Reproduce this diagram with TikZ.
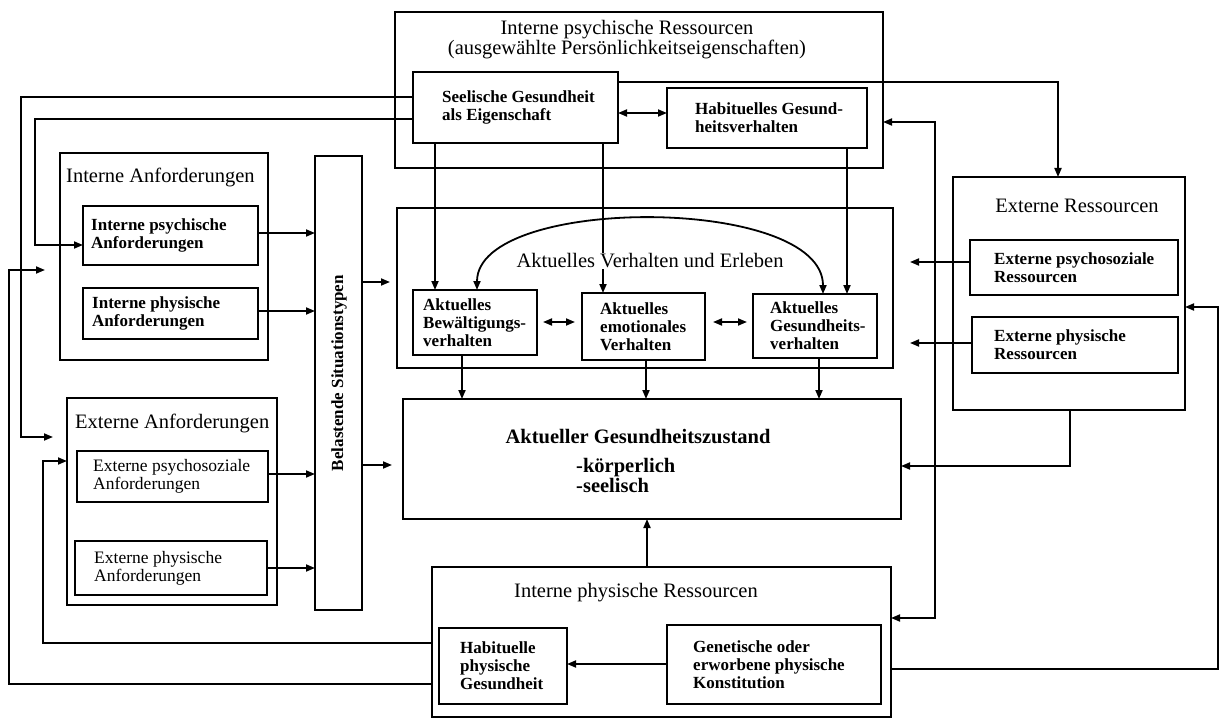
\documentclass[tikz,border=0pt]{standalone}
\usepackage{fontspec}
\setmainfont{Liberation Serif}
\usetikzlibrary{arrows.meta}
\newcommand\mkbox[7][txb]{\node[bx, minimum width=#4, minimum height=#5, label={[#1, xshift=#6]west:{#7}}] (#2) at (#3) {};}
\begin{document}
\begin{tikzpicture}[x=1pt,y=-1pt,
  bx/.style={draw, line width=2.2pt, inner sep=0pt, outer sep=0pt, anchor=north west},
  txb/.style={anchor=west, align=left, inner sep=0pt, font=\bfseries\fontsize{17}{18}\selectfont},
  txr/.style={anchor=west, align=left, inner sep=0pt, font=\fontsize{17.5}{18}\selectfont},
  ttl/.style={inner sep=0pt, font=\fontsize{20.5}{20}\selectfont},
  ttlb/.style={inner sep=0pt, font=\bfseries\fontsize{20.5}{20}\selectfont},
  ln/.style={line width=1.8pt},
  ar/.style={ln, -{Triangle[length=9pt,width=7pt]}},
  dar/.style={ln, {Triangle[length=9pt,width=7pt]}-{Triangle[length=9pt,width=7pt]}},
]
\useasboundingbox (0,0) rectangle (1220,719);

% group boxes
\node[bx, minimum width=488, minimum height=156] (tpr) at (395,12) {};
\node[bx, minimum width=208, minimum height=207] (ia) at (60,153) {};
\node[bx, minimum width=210, minimum height=207] (ea) at (67,398) {};
\node[bx, minimum width=47, minimum height=454] (belast) at (315,156) {};
\node[bx, minimum width=496, minimum height=160] (mid) at (397,208) {};
\node[bx, minimum width=498, minimum height=120] (akt) at (403,399) {};
\node[bx, minimum width=232, minimum height=233] (er) at (953,177) {};
\node[bx, minimum width=459, minimum height=150] (ipr) at (432,567) {};

% titles
\node[ttl, align=center] (tprt) at (627,40) {Interne psychische Ressourcen\\(ausgewählte Persönlichkeitseigenschaften)};
\node[ttl, anchor=base west] (iat) at (66,183) {Interne Anforderungen};
\node[ttl, anchor=base west] (eat) at (75,428) {Externe Anforderungen};
\node[ttl, anchor=base] (ert) at (1077,213) {Externe Ressourcen};
\node[ttl, anchor=base] (iprt) at (636,597) {Interne physische Ressourcen};
\node[ttlb, anchor=base] (aktt) at (638,443) {Aktueller Gesundheitszustand};
\node[ttlb, anchor=base west] (akt1) at (576,472) {-körperlich};
\node[ttlb, anchor=base west] (akt2) at (576,492) {-seelisch};
\node[rotate=90, inner sep=0pt, font=\bfseries\fontsize{17}{18}\selectfont] (belt) at (339,373) {Belastende Situationstypen};

% inner boxes
\mkbox{seel}{413,72}{205}{71}{29pt}{Seelische Gesundheit\\als Eigenschaft}
\mkbox{habv}{667,88}{200}{60}{28pt}{Habituelles Gesund-\\heitsverhalten}
\mkbox{ipa}{83,206}{175}{59}{8pt}{Interne psychische\\Anforderungen}
\mkbox{iphya}{83,288}{175}{51}{9pt}{Interne physische\\Anforderungen}
\mkbox[txr]{epa}{77,451}{191}{51}{16pt}{Externe psychosoziale\\Anforderungen}
\mkbox[txr]{ephya}{75,541}{192}{54}{19pt}{Externe physische\\Anforderungen}
\mkbox{bew}{413,290}{124}{65}{10pt}{Aktuelles\\Bewältigungs-\\verhalten}
\mkbox{emo}{582,293}{123}{67}{18pt}{Aktuelles\\emotionales\\Verhalten}
\mkbox{ges}{753,294}{124}{64}{17pt}{Aktuelles\\Gesundheits-\\verhalten}
\mkbox{epr}{970,240}{208}{55}{24pt}{Externe psychosoziale\\Ressourcen}
\mkbox{ephr}{972,317}{206}{56}{22pt}{Externe physische\\Ressourcen}
\mkbox{hpg}{439,628}{128}{76}{21pt}{Habituelle\\physische\\Gesundheit}
\mkbox{gen}{667,625}{214}{79}{26pt}{Genetische oder\\erworbene physische\\Konstitution}

% connectors: top
\draw[dar] (seel.east |- 0,113) -- (habv.west |- 0,113);
\draw[ar] (seel.south -| 435,0) -- (bew.north -| 435,0);
\draw[ar] (seel.south -| 603,0) -- (emo.north -| 603,0);
\draw[ar] (habv.south -| 847,0) -- (ges.north -| 847,0);
\draw[ar] (seel.east |- 0,82) -| (er.north -| 1058,0);
\draw[ar, shorten >=14pt] (seel.west |- 0,97) -| (21,437) -- (ea.west |- 0,437);
\draw[ar] (seel.west |- 0,119) -| (35,245) -- (ipa.west |- 0,245);

% connectors: left side
\draw[ar, shorten >=15pt] (ipr.west |- 0,684) -| (9,270) -- (ia.west |- 0,270);
\draw[ar] (ipr.west |- 0,643) -| (43,461) -- (ea.west |- 0,461);
\draw[ar] (ipa.east |- 0,233) -- (belast.west |- 0,233);
\draw[ar] (iphya.east |- 0,311) -- (belast.west |- 0,311);
\draw[ar] (epa.east |- 0,474) -- (belast.west |- 0,474);
\draw[ar] (ephya.east |- 0,568) -- (belast.west |- 0,568);
\draw[ar, shorten >=7pt] (belast.east |- 0,282) -- (mid.west |- 0,282);
\draw[ar, shorten >=11pt] (belast.east |- 0,465) -- (akt.west |- 0,465);

% connectors: middle
\draw[dar, shorten <=6pt, shorten >=7pt] (bew.east |- 0,322) -- (emo.west |- 0,322);
\draw[dar, shorten <=8pt, shorten >=6pt] (emo.east |- 0,322) -- (ges.west |- 0,322);
\draw[dar] (bew.north -| 477,0) .. controls (477,195) and (823,195) .. (ges.north -| 823,0);
\draw[ar] (bew.south -| 462,0) -- (akt.north -| 462,0);
\draw[ar] (emo.south -| 646,0) -- (akt.north -| 646,0);
\draw[ar] (ges.south -| 819,0) -- (akt.north -| 819,0);

% connectors: right side
\draw[ar, shorten >=17pt] (epr.west |- 0,262) -- (mid.east |- 0,262);
\draw[ar, shorten >=17pt] (ephr.west |- 0,343) -- (mid.east |- 0,343);
\draw[ar] (er.south -| 1070,0) |- (akt.east |- 0,466);
\draw[dar] (tpr.east |- 0,122) -| (935,618) -- (ipr.east |- 0,618);
\draw[ar] (ipr.east |- 0,669) -| (1218,307) -- (er.east |- 0,307);

% connectors: bottom
\draw[ar] (ipr.north -| 647,0) -- (akt.south -| 647,0);
\draw[ar] (gen.west |- 0,664) -- (hpg.east |- 0,664);

% title of the middle box, drawn over the line it interrupts
\node[ttl, anchor=base, fill=white, inner sep=1pt] (midt) at (650,268) {Aktuelles Verhalten und Erleben};
\end{tikzpicture}
\end{document}
